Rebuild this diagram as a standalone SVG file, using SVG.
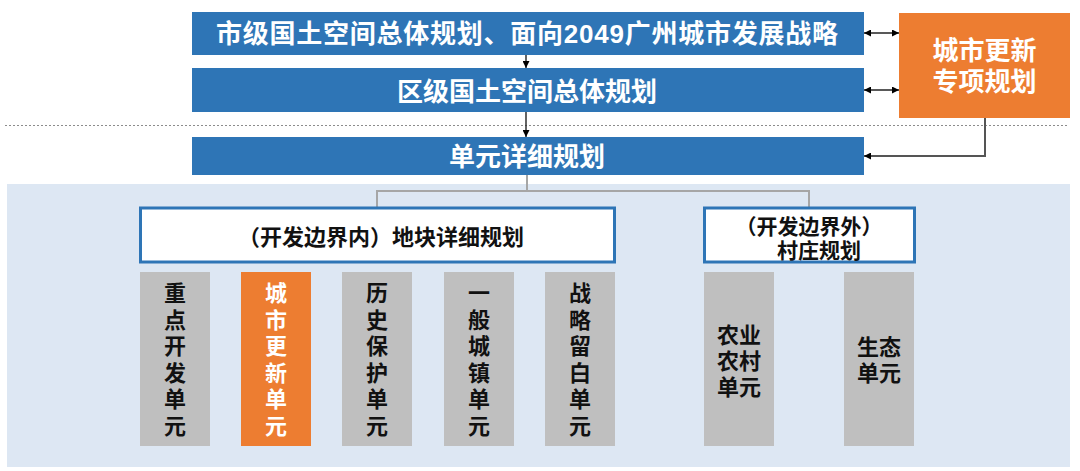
<svg xmlns="http://www.w3.org/2000/svg" width="1080" height="471" viewBox="0 0 1080 471">
<defs>
<marker id="ah" viewBox="0 0 10 10" refX="10" refY="5" markerWidth="7" markerHeight="7" markerUnits="userSpaceOnUse" orient="auto-start-reverse">
<path d="M0,0 L10,5 L0,10 z" fill="#000"/>
</marker>
<style>
text{font-family:"Liberation Sans","Noto Sans CJK SC",sans-serif;font-weight:bold;dominant-baseline:central;text-anchor:middle}
.bar{fill:#2E75B6}
.w{fill:#fff}
.k{fill:#111}
.box{fill:#fff;stroke:#2E75B6;stroke-width:3}
.col{fill:#BFBFBF}
.ora{fill:#ED7D31}
.arr{stroke:#222;stroke-width:1.4;fill:none}
.tree{stroke:#A6A6A6;stroke-width:2;fill:none}
</style>
</defs>
<rect x="0" y="0" width="1080" height="471" fill="#fff"/>
<rect id="bg" x="7" y="184" width="1063" height="283" fill="#DDE7F3"/>
<line x1="5" y1="125.5" x2="1068" y2="125.5" stroke="#8C8C8C" stroke-width="1" stroke-dasharray="2,2"/>

<g id="connectors">
<line class="arr" x1="526" y1="55" x2="526" y2="68" marker-end="url(#ah)"/>
<line class="arr" x1="526" y1="112" x2="526" y2="137" marker-end="url(#ah)"/>
<line class="arr" x1="864" y1="33" x2="899" y2="33" marker-start="url(#ah)" marker-end="url(#ah)"/>
<line class="arr" x1="864" y1="90" x2="899" y2="90" marker-start="url(#ah)" marker-end="url(#ah)"/>
<path d="M985,118 V156 H864" stroke="#555" stroke-width="2" fill="none" marker-end="url(#ah)"/>
<path class="tree" d="M527,175 V191 M377,207 V191 H809 V207"/>
</g>

<g id="n-city">
<rect class="bar" x="192" y="12" width="672" height="43"/>
<text class="w" x="527" y="34" font-size="26" textLength="622" lengthAdjust="spacing">市级国土空间总体规划、面向2049广州城市发展战略</text>
</g>
<g id="n-district">
<rect class="bar" x="192" y="68" width="672" height="44"/>
<text class="w" x="527" y="91.5" font-size="26">区级国土空间总体规划</text>
</g>
<g id="n-unit">
<rect class="bar" x="192" y="137" width="672" height="38"/>
<text class="w" x="527" y="157" font-size="26">单元详细规划</text>
</g>
<g id="n-renewal">
<rect class="ora" x="899" y="13" width="171" height="105"/>
<text class="w" x="984.5" y="51" font-size="26">城市更新</text>
<text class="w" x="984.5" y="82" font-size="26">专项规划</text>
</g>

<g id="n-inner">
<rect class="box" x="140.5" y="208" width="474" height="54"/>
<text class="k" x="381" y="237.5" font-size="22">（开发边界内）地块详细规划</text>
</g>
<g id="n-outer">
<rect class="box" x="704.5" y="208" width="210" height="54"/>
<text class="k" x="809" y="226.5" font-size="21">（开发边界外）</text>
<text class="k" x="819" y="250.5" font-size="21">村庄规划</text>
</g>

<g id="c1">
<rect class="col" x="140" y="272" width="70" height="174"/>
<text class="k" font-size="22"><tspan x="175" y="293.3">重</tspan><tspan x="175" y="319.8">点</tspan><tspan x="175" y="346.3">开</tspan><tspan x="175" y="372.8">发</tspan><tspan x="175" y="399.3">单</tspan><tspan x="175" y="425.8">元</tspan></text>
</g>
<g id="c2">
<rect class="ora" x="241" y="272" width="70" height="174"/>
<text class="w" font-size="22"><tspan x="276" y="293.3">城</tspan><tspan x="276" y="319.8">市</tspan><tspan x="276" y="346.3">更</tspan><tspan x="276" y="372.8">新</tspan><tspan x="276" y="399.3">单</tspan><tspan x="276" y="425.8">元</tspan></text>
</g>
<g id="c3">
<rect class="col" x="342" y="272" width="70" height="174"/>
<text class="k" font-size="22"><tspan x="377" y="293.3">历</tspan><tspan x="377" y="319.8">史</tspan><tspan x="377" y="346.3">保</tspan><tspan x="377" y="372.8">护</tspan><tspan x="377" y="399.3">单</tspan><tspan x="377" y="425.8">元</tspan></text>
</g>
<g id="c4">
<rect class="col" x="444" y="272" width="70" height="174"/>
<text class="k" font-size="22"><tspan x="479" y="293.3">一</tspan><tspan x="479" y="319.8">般</tspan><tspan x="479" y="346.3">城</tspan><tspan x="479" y="372.8">镇</tspan><tspan x="479" y="399.3">单</tspan><tspan x="479" y="425.8">元</tspan></text>
</g>
<g id="c5">
<rect class="col" x="545" y="272" width="70" height="174"/>
<text class="k" font-size="22"><tspan x="580" y="293.3">战</tspan><tspan x="580" y="319.8">略</tspan><tspan x="580" y="346.3">留</tspan><tspan x="580" y="372.8">白</tspan><tspan x="580" y="399.3">单</tspan><tspan x="580" y="425.8">元</tspan></text>
</g>
<g id="c6">
<rect class="col" x="704" y="272" width="70" height="174"/>
<text class="k" font-size="22"><tspan x="739" y="335">农业</tspan><tspan x="739" y="361">农村</tspan><tspan x="739" y="387">单元</tspan></text>
</g>
<g id="c7">
<rect class="col" x="844" y="272" width="70" height="174"/>
<text class="k" font-size="22"><tspan x="879" y="347">生态</tspan><tspan x="879" y="373">单元</tspan></text>
</g>
</svg>
